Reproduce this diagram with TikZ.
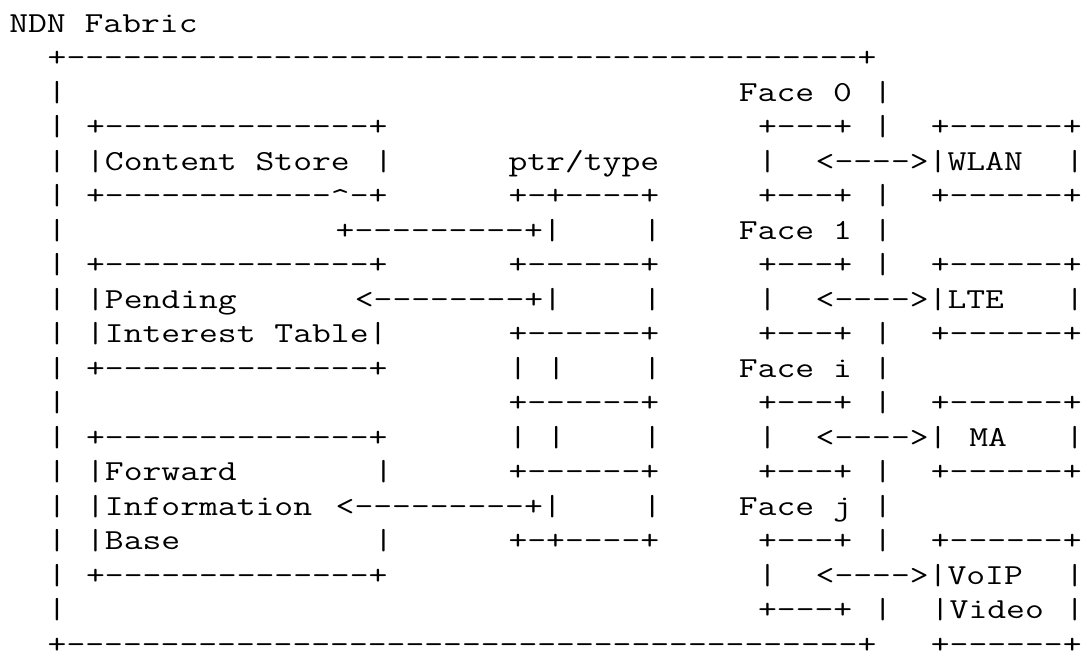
\documentclass[tikz,border=0pt]{standalone}
\usepackage{graphicx}
\ExplSyntaxOn
\cs_new:Npn \dsh #1 { \prg_replicate:nn {#1} { - \kern 0pt } }
\ExplSyntaxOff
\tikzset{txt/.style={anchor=base west, inner sep=0pt, outer sep=0pt,
  font=\fontsize{29}{34.5}\selectfont\ttfamily}}
\newcommand\seg[3]{\node[txt] (r#1c#2) at ({9.3+19.2*#2},{-32.3-34.5*#1}) {\scalebox{1.2611}[1]{#3}};}
\begin{document}
\begin{tikzpicture}[x=1pt,y=1pt]
\useasboundingbox (0,0) rectangle (1085,-652);
% row 0
\seg{0}{0}{NDN Fabric}
% row 1
\seg{1}{2}{+\dsh{42}+}
% row 2
\seg{2}{2}{|}\seg{2}{38}{Face 0}\seg{2}{45}{|}
% row 3
\seg{3}{2}{|}\seg{3}{4}{+\dsh{14}+}\seg{3}{39}{+\dsh{3}+}\seg{3}{45}{|}\seg{3}{48}{+\dsh{6}+}
% row 4
\seg{4}{2}{|}\seg{4}{4}{|Content Store}\seg{4}{19}{|}\seg{4}{26}{ptr/type}\seg{4}{39}{|}\seg{4}{42}{<\dsh{4}>|WLAN}\seg{4}{55}{|}
% row 5
\seg{5}{2}{|}\seg{5}{4}{+\dsh{12}\raisebox{-3pt}{\textasciicircum}-+}\seg{5}{26}{+-+\dsh{4}+}\seg{5}{39}{+\dsh{3}+}\seg{5}{45}{|}\seg{5}{48}{+\dsh{6}+}
% row 6
\seg{6}{2}{|}\seg{6}{17}{+\dsh{9}+|}\seg{6}{33}{|}\seg{6}{38}{Face 1}\seg{6}{45}{|}
% row 7
\seg{7}{2}{|}\seg{7}{4}{+\dsh{14}+}\seg{7}{26}{+\dsh{6}+}\seg{7}{39}{+\dsh{3}+}\seg{7}{45}{|}\seg{7}{48}{+\dsh{6}+}
% row 8
\seg{8}{2}{|}\seg{8}{4}{|Pending}\seg{8}{18}{<\dsh{8}+|}\seg{8}{33}{|}\seg{8}{39}{|}\seg{8}{42}{<\dsh{4}>|LTE}\seg{8}{55}{|}
% row 9
\seg{9}{2}{|}\seg{9}{4}{|Interest Table|}\seg{9}{26}{+\dsh{6}+}\seg{9}{39}{+\dsh{3}+}\seg{9}{45}{|}\seg{9}{48}{+\dsh{6}+}
% row 10
\seg{10}{2}{|}\seg{10}{4}{+\dsh{14}+}\seg{10}{26}{|}\seg{10}{28}{|}\seg{10}{33}{|}\seg{10}{38}{Face i}\seg{10}{45}{|}
% row 11
\seg{11}{2}{|}\seg{11}{26}{+\dsh{6}+}\seg{11}{39}{+\dsh{3}+}\seg{11}{45}{|}\seg{11}{48}{+\dsh{6}+}
% row 12
\seg{12}{2}{|}\seg{12}{4}{+\dsh{14}+}\seg{12}{26}{|}\seg{12}{28}{|}\seg{12}{33}{|}\seg{12}{39}{|}\seg{12}{42}{<\dsh{4}>|}\seg{12}{50}{MA}\seg{12}{55}{|}
% row 13
\seg{13}{2}{|}\seg{13}{4}{|Forward}\seg{13}{19}{|}\seg{13}{26}{+\dsh{6}+}\seg{13}{39}{+\dsh{3}+}\seg{13}{45}{|}\seg{13}{48}{+\dsh{6}+}
% row 14
\seg{14}{2}{|}\seg{14}{4}{|Information}\seg{14}{17}{<\dsh{9}+|}\seg{14}{33}{|}\seg{14}{38}{Face j}\seg{14}{45}{|}
% row 15
\seg{15}{2}{|}\seg{15}{4}{|Base}\seg{15}{19}{|}\seg{15}{26}{+-+\dsh{4}+}\seg{15}{39}{+\dsh{3}+}\seg{15}{45}{|}\seg{15}{48}{+\dsh{6}+}
% row 16
\seg{16}{2}{|}\seg{16}{4}{+\dsh{14}+}\seg{16}{39}{|}\seg{16}{42}{<\dsh{4}>|VoIP}\seg{16}{55}{|}
% row 17
\seg{17}{2}{|}\seg{17}{39}{+\dsh{3}+}\seg{17}{45}{|}\seg{17}{48}{|Video}\seg{17}{55}{|}
% row 18
\seg{18}{2}{+\dsh{42}+}\seg{18}{48}{+\dsh{6}+}
\end{tikzpicture}
\end{document}
